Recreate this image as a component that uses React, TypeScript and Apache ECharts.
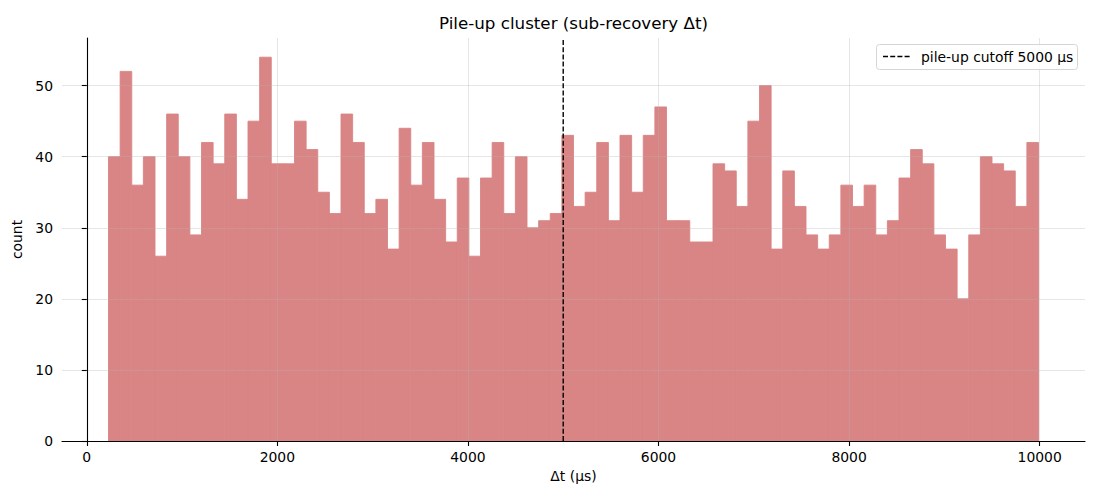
import React, { useEffect, useRef } from "react";
import * as echarts from "echarts";

const binStart = 228;
const binWidth = 122;
const counts = [
  40, 52, 36, 40, 26, 46, 40, 29, 42, 39,
  46, 34, 45, 54, 39, 39, 45, 41, 35, 32,
  46, 42, 32, 34, 27, 44, 36, 42, 34, 28,
  37, 26, 37, 42, 32, 40, 30, 31, 32, 43,
  33, 35, 42, 31, 43, 35, 43, 47, 31, 31,
  28, 28, 39, 38, 33, 45, 50, 27, 38, 33,
  29, 27, 29, 36, 33, 36, 29, 31, 37, 41,
  39, 29, 27, 20, 29, 40, 39, 38, 33, 42,
];
const xTicks = [0, 2000, 4000, 6000, 8000, 10000];
const yTicks = [0, 10, 20, 30, 40, 50];
const cutoff = 5000;
const cutoffLabel = "pile-up cutoff 5000 μs";
const titleText = "Pile-up cluster (sub-recovery Δt)";
const xName = "Δt (μs)";
const yName = "count";

const FONT = "DejaVu Sans";

export default function App() {
  const ref = useRef<HTMLDivElement>(null);
  useEffect(() => {
    document.body.style.margin = "0";
    const chart = echarts.init(ref.current!, null, { renderer: "svg" });
    const histData = counts.map((c, i) => [binStart + i * binWidth, binStart + (i + 1) * binWidth, c]);
    const dataMin = binStart;
    const dataMax = binStart + counts.length * binWidth;
    const span = dataMax - dataMin;
    const xMin = dataMin - 0.05 * span;
    const xMax = dataMax + 0.05 * span;
    const yMax = Math.max(...counts) * 1.05;

    const gridColor = "rgba(176,176,176,0.32)";
    const axisCommon = {
      z: 3,
      axisLine: { show: true, lineStyle: { color: "#000", width: 1.1 } },
      axisTick: { show: true, inside: false, length: 5, lineStyle: { color: "#000", width: 1.1 } },
      splitLine: { show: true, lineStyle: { color: gridColor, width: 1 } },
      nameTextStyle: { fontFamily: FONT, fontSize: 13.9, color: "#000" },
    };

    chart.setOption({
      animation: false,
      grid: { left: 62, right: 15, top: 38, bottom: 59, containLabel: false },
      xAxis: {
        type: "value",
        min: xMin,
        max: xMax,
        ...axisCommon,
        axisTick: { ...axisCommon.axisTick, customValues: xTicks },
        axisLabel: {
          customValues: xTicks,
          formatter: (v: number) => String(v),
          fontFamily: FONT,
          fontSize: 13.9,
          color: "#000",
          margin: 9,
        },
        name: xName,
        nameLocation: "middle",
        nameGap: 28,
      },
      yAxis: {
        type: "value",
        min: 0,
        max: yMax,
        ...axisCommon,
        axisTick: { ...axisCommon.axisTick, customValues: yTicks },
        axisLabel: {
          customValues: yTicks,
          formatter: (v: number) => String(v),
          fontFamily: FONT,
          fontSize: 13.9,
          color: "#000",
          margin: 9,
        },
        name: yName,
        nameLocation: "middle",
        nameRotate: 90,
        nameGap: 29,
      },
      series: [
        {
          type: "custom",
          z: 2,
          data: histData,
          encode: { x: [0, 1], y: 2 },
          renderItem: (params: any, api: any) => {
            const x0 = api.value(0);
            const x1 = api.value(1);
            const c = api.value(2);
            const p0 = api.coord([x0, c]);
            const p1 = api.coord([x1, 0]);
            return {
              type: "rect",
              shape: { x: p0[0], y: p0[1], width: p1[0] - p0[0], height: p1[1] - p0[1] },
              style: { fill: "#d98585", stroke: "#d98585", lineWidth: 0.9 },
            };
          },
        },
        {
          type: "line",
          name: cutoffLabel,
          z: 5,
          symbol: "none",
          data: [
            [cutoff, 0],
            [cutoff, yMax],
          ],
          lineStyle: { color: "#000", width: 1.4, type: [5, 2.2] },
        },
      ],
      graphic: [
        {
          type: "text",
          x: 573.5,
          y: 23,
          style: {
            text: titleText,
            fontFamily: FONT,
            fontSize: 16.7,
            fill: "#000",
            textAlign: "center",
            textVerticalAlign: "middle",
          },
        },
        {
          type: "rect",
          z: 10,
          shape: { x: 876.5, y: 44.5, width: 201, height: 25, r: 3 },
          style: { fill: "rgba(255,255,255,0.8)", stroke: "#d5d5d5", lineWidth: 1 },
        },
        {
          type: "line",
          z: 11,
          shape: { x1: 883, y1: 56.5, x2: 910, y2: 56.5 },
          style: { stroke: "#000", lineWidth: 1.4, lineDash: [5, 2.2] },
        },
        {
          type: "text",
          z: 11,
          x: 921,
          y: 57,
          style: {
            text: cutoffLabel,
            fontFamily: FONT,
            fontSize: 13.9,
            fill: "#000",
            textAlign: "left",
            textVerticalAlign: "middle",
          },
        },
      ],
    });
    return () => chart.dispose();
  }, []);
  return <div ref={ref} style={{ width: 1100, height: 500 }} />;
}
